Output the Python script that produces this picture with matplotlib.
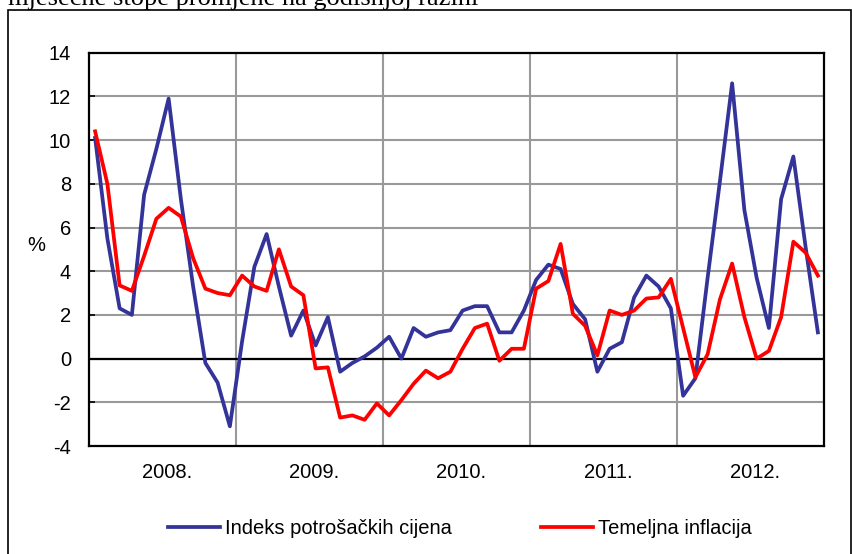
import matplotlib
matplotlib.use("Agg")
import matplotlib.pyplot as plt
from matplotlib.patches import Rectangle
from matplotlib.transforms import ScaledTranslation
import numpy as np

plt.rcParams["font.family"] = ["Liberation Sans", "DejaVu Sans"]
plt.rcParams["axes.unicode_minus"] = False

years = ["2008.", "2009.", "2010.", "2011.", "2012."]

# monthly year-on-year rates, Jan 2008 - Dec 2012
cpi = [10.1, 5.5, 2.3, 2.0, 7.5, 9.6, 11.9, 7.3, 3.3, -0.2, -1.1, -3.1,
       0.8, 4.2, 5.7, 3.3, 1.05, 2.2, 0.6, 1.9, -0.6, -0.2, 0.1, 0.5,
       1.0, 0.0, 1.4, 1.0, 1.2, 1.3, 2.2, 2.4, 2.4, 1.2, 1.2, 2.2,
       3.6, 4.3, 4.1, 2.5, 1.8, -0.6, 0.45, 0.75, 2.8, 3.8, 3.3, 2.3,
       -1.7, -0.9, 3.7, 8.1, 12.6, 6.8, 3.7, 1.4, 7.3, 9.25, 5.1, 1.2]
core = [10.4, 8.0, 3.35, 3.1, 4.7, 6.4, 6.9, 6.5, 4.6, 3.2, 3.0, 2.9,
        3.8, 3.3, 3.1, 5.0, 3.3, 2.9, -0.45, -0.4, -2.7, -2.6, -2.8, -2.05,
        -2.6, -1.9, -1.15, -0.55, -0.9, -0.6, 0.45, 1.4, 1.6, -0.1, 0.45, 0.45,
        3.2, 3.55, 5.25, 2.05, 1.5, 0.15, 2.2, 2.0, 2.2, 2.75, 2.8, 3.65,
        1.4, -0.85, 0.2, 2.7, 4.35, 1.9, 0.0, 0.35, 1.9, 5.35, 4.85, 3.8]

W, H = 853, 554
FS = 14.5
fig = plt.figure(figsize=(W / 100, H / 100), dpi=100)

# caption above the chart (cut off at the top, as in the source)
fig.text(8 / W, 1 - 5 / H, "mjesečne stope promjene na godišnjoj razini",
         family=["Liberation Serif", "DejaVu Serif"], fontsize=19,
         ha="left", va="baseline")

# outer chart border (runs off the bottom edge)
fig.patches.append(Rectangle((8 / W, -6 / H), (851 - 8) / W, (H - 4) / H,
                             transform=fig.transFigure, fill=False,
                             edgecolor="black", linewidth=1.2))

ax = fig.add_axes([89 / W, (H - 446) / H, (824 - 89) / W, (446 - 52.7) / H])

x = np.arange(len(cpi))
bounds = np.arange(12, len(cpi), 12) - 0.5
centers = np.arange(len(years)) * 12 + 5.5

ax.set_xlim(-0.5, len(cpi) - 0.5)
ax.set_ylim(-4, 14)

# grid
ax.set_yticks(np.arange(-4, 15, 2))
for v in np.arange(-2, 14, 2):
    ax.axhline(v, color="#999999", linewidth=1.5, zorder=1)
for b in bounds:
    ax.axvline(b, color="#999999", linewidth=1.5, zorder=1)
ax.axhline(0, color="black", linewidth=1.6, zorder=2)

ax.plot(x, cpi, color="#333399", linewidth=2.7, label="Indeks potrošačkih cijena", zorder=3)
ax.plot(x, core, color="#ff0000", linewidth=2.7, label="Temeljna inflacija", zorder=4)

for s in ax.spines.values():
    s.set_linewidth(1.6)

ax.tick_params(axis="y", direction="in", length=4, width=1.2, pad=13, labelsize=FS)
ax.set_xticks(centers)
ax.set_xticklabels(years)
ax.tick_params(axis="x", length=0, pad=12, labelsize=FS)
shift = ScaledTranslation(0.05, 0, fig.dpi_scale_trans)
for lab in ax.get_xticklabels():
    lab.set_transform(lab.get_transform() + shift)

# category axis crossing at zero with its tick marks
sec = ax.secondary_xaxis(4 / 18)
sec.set_xticks(bounds)
sec.tick_params(direction="out", length=5, width=1.2, labelbottom=False)
sec.spines["bottom"].set_visible(False)

fig.text(36 / W, 1 - 245 / H, "%", fontsize=FS, ha="center", va="center")

fig.legend(loc="center", bbox_to_anchor=(460 / W, 1 - 529 / H), ncol=2,
           frameon=False, fontsize=FS, handlelength=2.6, handletextpad=0.25,
           columnspacing=4.4)

fig.savefig("out.png", dpi=100)
plt.close(fig)
